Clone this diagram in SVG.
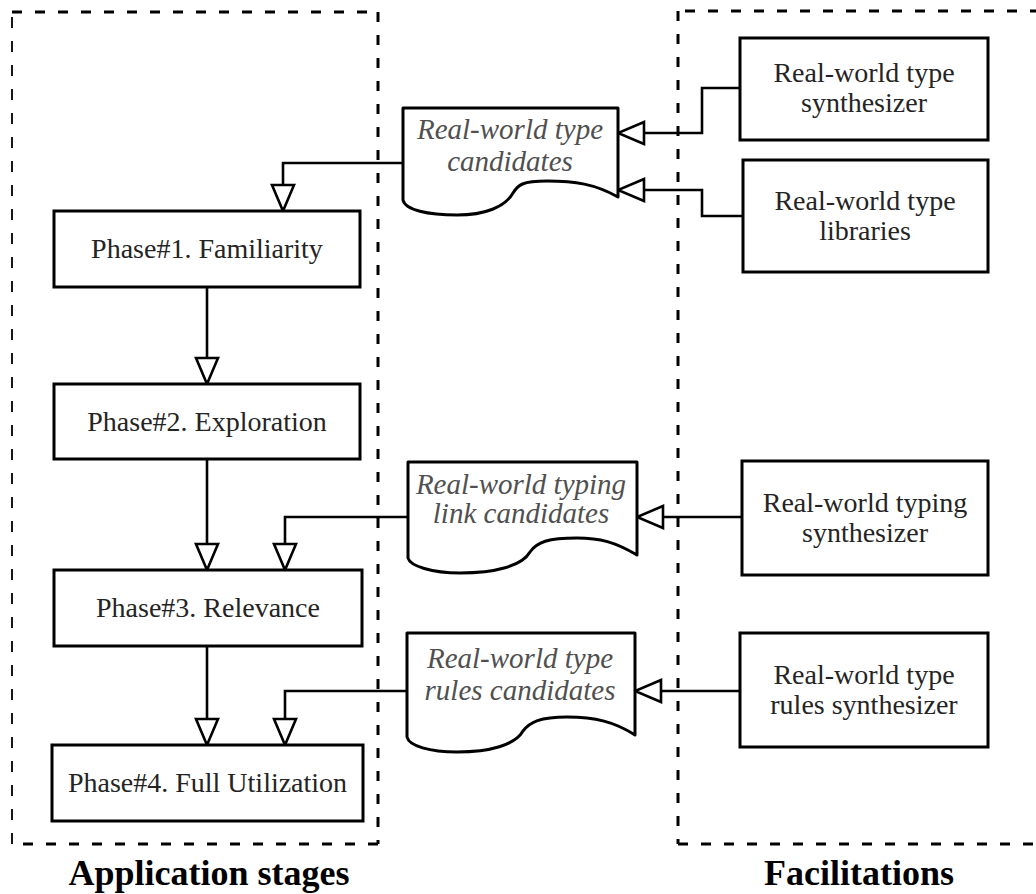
<svg xmlns="http://www.w3.org/2000/svg" width="1036" height="894" viewBox="0 0 1036 894">
  <defs>
    <!-- hollow triangular arrowhead -->
    <marker id="tri" markerUnits="userSpaceOnUse" viewBox="0 0 30 26" markerWidth="30" markerHeight="26" refX="28" refY="13" orient="auto">
      <path d="M2,2 L28,13 L2,24 Z" fill="#fff" stroke="#000" stroke-width="2.6" stroke-linejoin="miter"/>
    </marker>
    <style>
      .frame { fill: none; stroke: #000; stroke-width: 3; stroke-dasharray: 10 13; }
      .frame-thin { fill: none; stroke: #000; stroke-width: 1.8; stroke-dasharray: 11 13; }
      .box { fill: #fff; stroke: #000; stroke-width: 3; }
      .doc { fill: #fff; stroke: #000; stroke-width: 3; stroke-linejoin: round; }
      .edge { fill: none; stroke: #000; stroke-width: 2.6; marker-end: url(#tri); }
      .lbl { font-family: "Liberation Serif", "Times New Roman", serif; font-size: 28px; fill: #242424; text-anchor: middle; }
      .ital { font-family: "Liberation Serif", "Times New Roman", serif; font-size: 29px; font-style: italic; fill: #505050; text-anchor: middle; }
      .title { font-family: "Liberation Serif", "Times New Roman", serif; font-size: 36px; font-weight: bold; fill: #000; text-anchor: middle; }
    </style>
  </defs>

  <rect width="1036" height="894" fill="#fff"/>

  <!-- swimlane frames -->
  <g id="lane-application">
    <path class="frame" d="M12,12 H378"/>
    <path class="frame" d="M378,12 V844"/>
    <path class="frame" d="M378,844 H12"/>
    <path class="frame-thin" d="M12,844 V12"/>
    <text class="title" x="209" y="885">Application stages</text>
  </g>
  <g id="lane-facilitations">
    <path class="frame" d="M1040,11 H678"/>
    <path class="frame" d="M678,11 V844"/>
    <path class="frame" d="M678,844 H1040"/>
    <text class="title" x="859" y="885">Facilitations</text>
  </g>

  <!-- connectors -->
  <g id="connectors">
    <path class="edge" d="M740,88 H702 V133 H618"/>
    <path class="edge" d="M743,216 H702 V190 H618"/>
    <path class="edge" d="M403,163 H283 V211"/>
    <path class="edge" d="M207,287 V384"/>
    <path class="edge" d="M207,459 V570"/>
    <path class="edge" d="M742,517 H637"/>
    <path class="edge" d="M408,517 H285 V570"/>
    <path class="edge" d="M207,646 V745"/>
    <path class="edge" d="M740,691 H635"/>
    <path class="edge" d="M407,691 H285 V745"/>
  </g>

  <!-- application phases -->
  <g id="phase1">
    <rect class="box" x="54" y="211" width="306" height="76"/>
    <text class="lbl" x="207" y="258">Phase#1. Familiarity</text>
  </g>
  <g id="phase2">
    <rect class="box" x="54" y="384" width="306" height="75"/>
    <text class="lbl" x="207" y="431">Phase#2. Exploration</text>
  </g>
  <g id="phase3">
    <rect class="box" x="54" y="570" width="308" height="76"/>
    <text class="lbl" x="208" y="617">Phase#3. Relevance</text>
  </g>
  <g id="phase4">
    <rect class="box" x="52" y="745" width="311" height="76"/>
    <text class="lbl" x="207.5" y="792">Phase#4. Full Utilization</text>
  </g>

  <!-- candidate documents -->
  <g id="type-candidates">
    <path class="doc" d="M403,108 H618 V197 C595,184 575,181 547,181 C522,181 518,185 513,193 C505,207 485,215 457,215 C428,215 405,210 403,200 Z"/>
    <text class="ital" x="510" y="139">Real-world type</text>
    <text class="ital" x="510" y="171">candidates</text>
  </g>
  <g id="typing-link-candidates">
    <path class="doc" d="M408,462 H637 V555 C615,542 600,538 577,538 C548,538 537,542 530,552 C522,566 495,573 460,573 C432,573 410,566 408,558 Z"/>
    <text class="ital" x="521" y="494">Real-world typing</text>
    <text class="ital" x="521" y="523">link candidates</text>
  </g>
  <g id="type-rules-candidates">
    <path class="doc" d="M407,633 H635 V735 C615,722 595,717 567,717 C540,717 530,722 523,731 C515,745 490,752 457,752 C430,752 409,746 407,737 Z"/>
    <text class="ital" x="520" y="668">Real-world type</text>
    <text class="ital" x="520" y="700">rules candidates</text>
  </g>

  <!-- facilitation components -->
  <g id="type-synthesizer">
    <rect class="box" x="740" y="38" width="248" height="102"/>
    <text class="lbl" x="864" y="82">Real-world type</text>
    <text class="lbl" x="864" y="112">synthesizer</text>
  </g>
  <g id="type-libraries">
    <rect class="box" x="743" y="160" width="245" height="112"/>
    <text class="lbl" x="865" y="210">Real-world type</text>
    <text class="lbl" x="865" y="240">libraries</text>
  </g>
  <g id="typing-synthesizer">
    <rect class="box" x="742" y="461" width="246" height="114"/>
    <text class="lbl" x="865" y="512">Real-world typing</text>
    <text class="lbl" x="865" y="542">synthesizer</text>
  </g>
  <g id="rules-synthesizer">
    <rect class="box" x="740" y="633" width="248" height="114"/>
    <text class="lbl" x="864" y="684">Real-world type</text>
    <text class="lbl" x="864" y="714">rules synthesizer</text>
  </g>
</svg>
